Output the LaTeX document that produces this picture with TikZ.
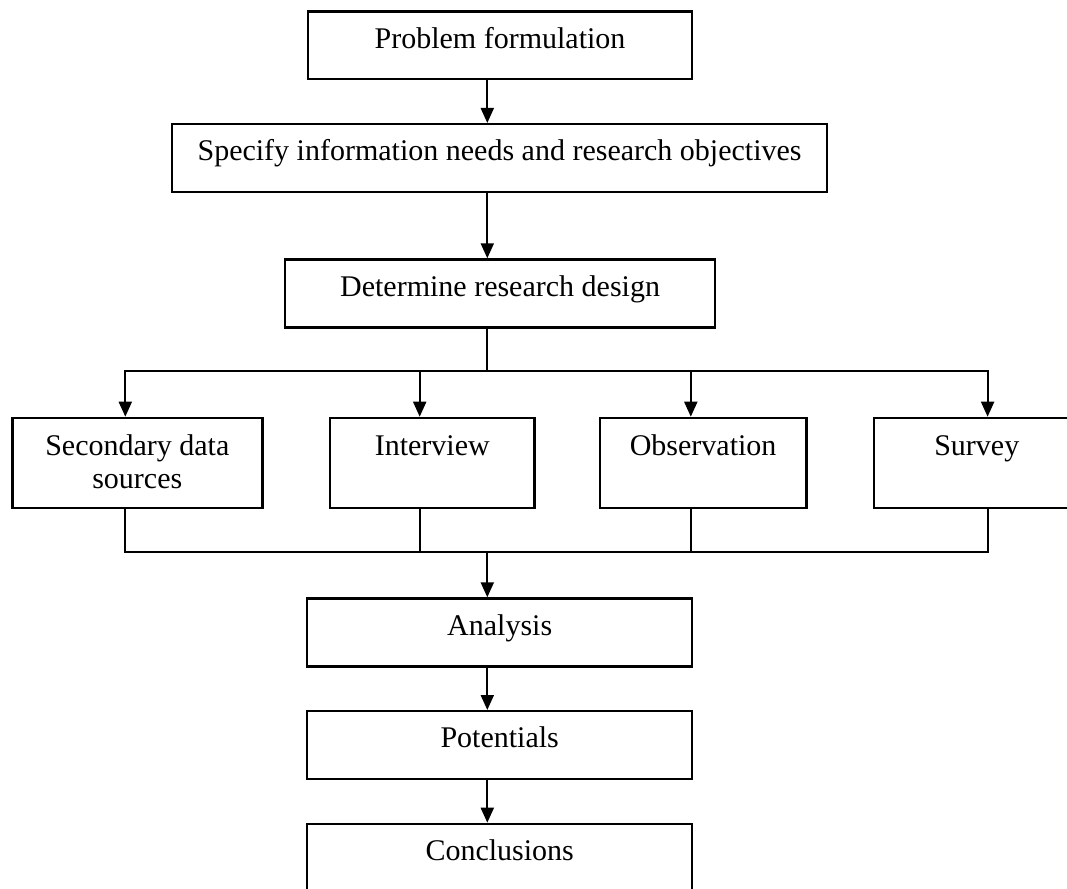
\documentclass[tikz,border=0pt]{standalone}
\usepackage{fontspec}
\setmainfont{Liberation Serif}
\usetikzlibrary{arrows.meta,calc}
\begin{document}
\begin{tikzpicture}[x=1pt,y=-1pt,
  box/.style={draw, line width=2.4pt, rectangle, inner sep=0pt, anchor=north west},
  lbl/.style={anchor=base, font=\fontsize{30}{33.3}\selectfont, align=center, inner sep=0pt},
  link/.style={line width=2pt},
  arr/.style={link, -{Triangle[length=15pt,width=13pt]}}]

\useasboundingbox (0,0) rectangle (1067,888);
\clip (0,0) rectangle (1067,888);

% main column boxes
\node[box, minimum width=384.3pt, minimum height=67.7pt] (pf)   at (306.7,10.3)  {};
\node[box, minimum width=655.3pt, minimum height=67.7pt] (spec) at (170.7,123)   {};
\node[box, minimum width=429.7pt, minimum height=68pt]   (det)  at (284,258.3)   {};

% data collection methods
\node[box, minimum width=250pt,   minimum height=90pt]   (sec)  at (11.1,416.7)  {};
\node[box, minimum width=204.5pt, minimum height=90pt]   (int)  at (328.8,416.7) {};
\node[box, minimum width=206.6pt, minimum height=90pt]   (obs)  at (598.6,416.7) {};
\node[box, minimum width=205.8pt, minimum height=90pt]   (sur)  at (872.7,416.7) {};

% lower column boxes
\node[box, minimum width=385pt, minimum height=68pt] (ana) at (306,597.3) {};
\node[box, minimum width=385pt, minimum height=68pt] (pot) at (306,710)   {};
\node[box, minimum width=385pt, minimum height=68pt] (con) at (306,822.7) {};

% labels (base anchor sits on the last line of a two-line label)
\node[lbl] (pft)   at ([yshift=-38pt]pf.north)   {Problem formulation};
\node[lbl] (spect) at ([yshift=-37pt]spec.north) {Specify information needs and research objectives};
\node[lbl] (dett)  at ([yshift=-38.4pt]det.north) {Determine research design};
\node[lbl] (sect)  at ([yshift=-71.6pt]sec.north) {Secondary data\\sources};
\node[lbl] (intt)  at ([yshift=-38.3pt]int.north) {Interview};
\node[lbl] (obst)  at ([yshift=-38.3pt]obs.north) {Observation};
\node[lbl] (surt)  at ([yshift=-38.3pt]sur.north) {Survey};
\node[lbl] (anat)  at ([yshift=-37.7pt]ana.north) {Analysis};
\node[lbl] (pott)  at ([yshift=-37.7pt]pot.north) {Potentials};
\node[lbl] (cont)  at ([yshift=-37.3pt]con.north) {Conclusions};

% connector guide positions
\coordinate (trunk) at (487.3,0);
\coordinate (split) at (487.3,371.3);
\coordinate (merge) at (487.3,551.7);
\coordinate (secx)  at (125.3,0);
\coordinate (intx)  at (419.7,0);
\coordinate (obsx)  at (690.8,0);
\coordinate (surx)  at (987.6,0);

% top chain
\draw[arr] (pf.south -| trunk) -- (spec.north -| trunk);
\draw[arr] (spec.south -| trunk) -- (det.north -| trunk);
\draw[link] (det.south -| trunk) -- (split);

% fan out
\draw[arr] (split) -| (sec.north -| secx);
\draw[arr] (split) -| (sur.north -| surx);
\draw[arr] (split -| intx) -- (int.north -| intx);
\draw[arr] (split -| obsx) -- (obs.north -| obsx);

% fan in
\draw[link] (sec.south -| secx) -- (merge -| secx) -- (merge -| surx) -- (sur.south -| surx);
\draw[link] (int.south -| intx) -- (merge -| intx);
\draw[link] (obs.south -| obsx) -- (merge -| obsx);
\draw[arr] (merge) -- (ana.north -| trunk);

% bottom chain
\draw[arr] (ana.south -| trunk) -- (pot.north -| trunk);
\draw[arr] (pot.south -| trunk) -- (con.north -| trunk);
\end{tikzpicture}
\end{document}
